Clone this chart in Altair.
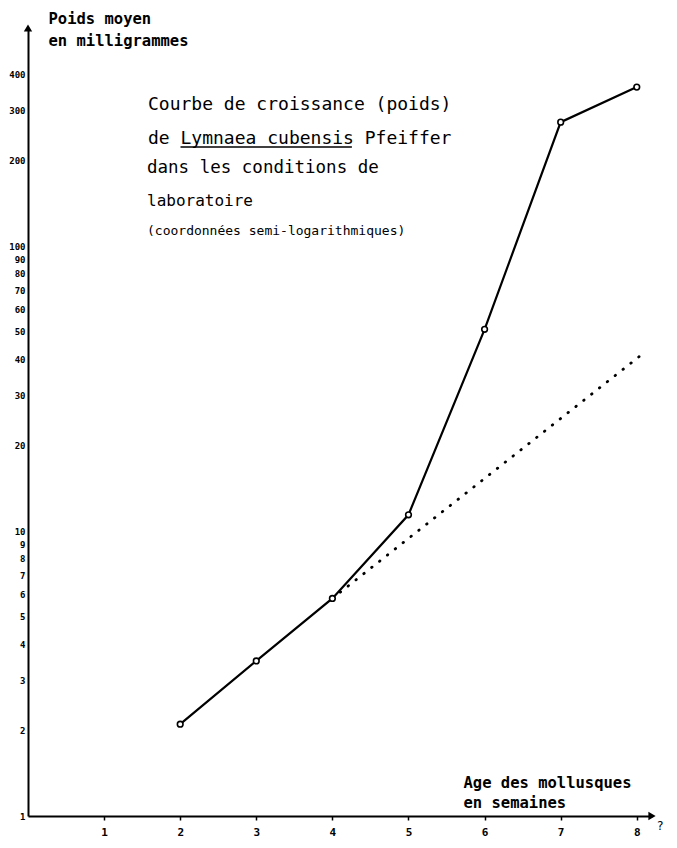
import altair as alt
import pandas as pd

# ---- data ----
weeks = [2, 3, 4, 5, 6, 7, 8]
weights = [2.1, 3.5, 5.8, 11.4, 51, 272, 361]

trend_weeks = [4, 8.11]
trend_weights = [5.8, 42.5]

y_ticks = [1, 2, 3, 4, 5, 6, 7, 8, 9, 10, 20, 30, 40, 50, 60, 70, 80, 90, 100, 200, 300, 400]
x_ticks = [1, 2, 3, 4, 5, 6, 7, 8]

x_max = 8.2
y_max = 582

title_lines = [
    "Courbe de croissance (poids)",
    "de Lymnaea cubensis Pfeiffer",
    "dans les conditions de",
    "laboratoire",
    "(coordonnées semi-logarithmiques)",
]
y_title = ["Poids moyen", "en milligrammes"]
x_title = ["Age des mollusques", "en semaines"]
corner_mark = "?"

FONT = "DejaVu Sans Mono"
W, H = 624, 788

main_df = pd.DataFrame({"week": weeks, "weight": weights})
trend_df = pd.DataFrame({"week": trend_weeks, "weight": trend_weights})
arrow_df = pd.DataFrame({"week": [x_max, 0], "weight": [1, y_max], "shape": ["triangle-right", "triangle-up"]})

xs = alt.Scale(domain=[0, x_max], nice=False, zero=False)
ys = alt.Scale(type="log", domain=[1, y_max], nice=False)

x_axis = alt.Axis(
    values=x_ticks, format="d", grid=False,
    labelFont=FONT, labelFontSize=11, labelFontWeight="bold", labelColor="black",
    labelPadding=6, tickSize=4, tickColor="black", tickWidth=1.5,
    domainColor="black", domainWidth=2,
    title=x_title, titleFont=FONT, titleFontSize=15.5, titleFontWeight="bold",
    titleColor="black", titleAngle=0, titleAlign="left", titleBaseline="alphabetic",
    titleX=435, titleY=-29, titleLineHeight=20,
)
y_axis = alt.Axis(
    values=y_ticks, format="d", grid=False,
    labelFont=FONT, labelFontSize=9, labelFontWeight="bold", labelColor="black",
    labelPadding=3, tickSize=0,
    domainColor="black", domainWidth=2,
    title=y_title, titleFont=FONT, titleFontSize=15.5, titleFontWeight="bold",
    titleColor="black", titleAngle=0, titleAlign="left", titleBaseline="alphabetic",
    titleX=20, titleY=-5, titleLineHeight=22,
)

base_x = alt.X("week:Q", scale=xs, axis=x_axis)
base_y = alt.Y("weight:Q", scale=ys, axis=y_axis)

line = alt.Chart(main_df).mark_line(color="black", strokeWidth=2.2).encode(x=base_x, y=base_y)
pts = alt.Chart(main_df).mark_point(
    shape="circle", size=32, fill="white", stroke="black", strokeWidth=1.6, opacity=1, filled=False
).encode(x="week:Q", y="weight:Q")
trend = alt.Chart(trend_df).mark_line(
    color="black", strokeWidth=2.8, strokeDash=[0.5, 9.5], strokeCap="round"
).encode(x="week:Q", y="weight:Q")
arrows = alt.Chart(arrow_df).mark_point(filled=True, color="black", size=70, opacity=1).encode(
    x="week:Q", y="weight:Q", shape=alt.Shape("shape:N", scale=None)
)

layers = [line, trend, pts, arrows]

# hand-lettered caption block
text_specs = [(120, 82, 18), (120, 116, 18), (119, 145, 17.5), (119, 178, 16), (119, 207, 13)]
for txt, (px, py, fs) in zip(title_lines, text_specs):
    layers.append(
        alt.Chart(alt.Data(values=[{"t": txt}])).mark_text(
            align="left", baseline="alphabetic", font=FONT, fontSize=fs, color="black"
        ).encode(x=alt.value(px), y=alt.value(py), text="t:N")
    )

# underline of the species name
cw = 18 * 0.602
layers.append(
    alt.Chart(alt.Data(values=[{"a": 1}])).mark_rule(color="black", strokeWidth=1.5).encode(
        x=alt.value(120 + 3 * cw), x2=alt.value(120 + 19 * cw - 2), y=alt.value(119)
    )
)

layers.append(
    alt.Chart(alt.Data(values=[{"t": corner_mark}])).mark_text(
        align="center", baseline="middle", font=FONT, fontSize=12, color="black"
    ).encode(x=alt.value(632), y=alt.value(798), text="t:N")
)

chart = alt.layer(*layers).properties(
    width=W, height=H,
    autosize=alt.AutoSizeParams(type="none"),
    padding={"left": 20, "top": 20, "right": 17, "bottom": 24},
    background="white",
).configure_view(stroke=None)

chart.save("out.html", embed_options={"renderer": "svg", "actions": False})
